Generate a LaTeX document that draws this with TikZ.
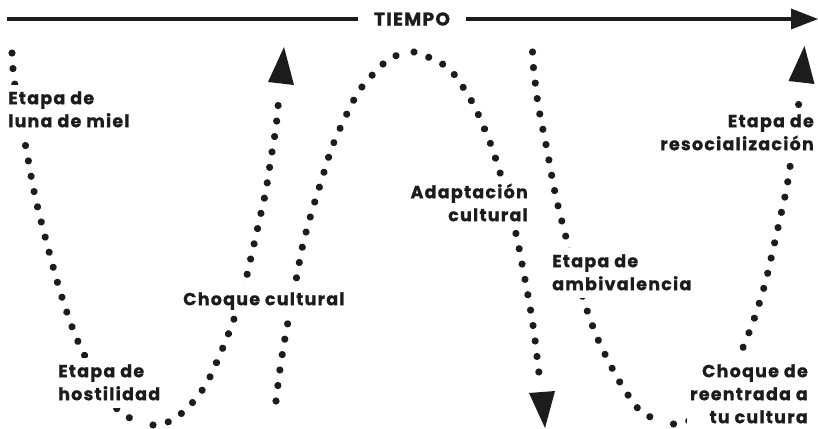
\documentclass[tikz,border=0pt]{standalone}
\usepackage{fontspec}
\setmainfont{Poppins}[LetterSpace=7, BoldFeatures={FakeBold=0.8}]
\definecolor{ink}{HTML}{1C1C1C}
% fixed line height / depth so label boxes do not depend on the letters
\newcommand\topstrut{\rule{0pt}{16pt}}
\newcommand\botstrut{\rule[-5pt]{0pt}{5pt}}
\tikzset{
  dotpath/.style={draw=ink, line width=7.2pt, line cap=round,
      dash pattern=on 0.01pt off #1},
  dotpath/.default=15.6pt,
  stage/.style={fill=white, inner sep=3pt, text=ink,
      font=\bfseries\fontsize{17.5}{23}\selectfont},
  headfill/.style={fill=ink},
}
\begin{document}
\begin{tikzpicture}[x=1pt,y=-1pt]
\useasboundingbox (0,0) rectangle (818,428);

% time axis
\node[font=\bfseries\fontsize{18.5}{20}\selectfont, text=ink, inner xsep=0pt] (tiempo) at (412,19) {TIEMPO};
\coordinate (axisstart) at (7,19);
\coordinate (axisend) at (791,19);
\draw[ink, line width=3.8pt] (axisstart) -- ([xshift=-16pt]tiempo.west);
\draw[ink, line width=3.8pt] ([xshift=16pt]tiempo.east) -- (axisend);
\fill[headfill] (791,8.5) -- (818,19) -- (791,29.5) -- cycle;

% first W-shaped curve (stay abroad)
\draw[dotpath] plot[smooth] coordinates {
  (12,53) (13,69) (18,108) (26,148) (35,196) (47,244) (60,291) (76,337)
  (98,381) (117,409) (128,417) (143,424)};
\draw[dotpath] plot[smooth] coordinates {
  (153,425) (168,422) (182,413) (193,402) (203,389) (211,375) (224,345)
  (235,316) (245,283) (252,253) (259,222) (266,190) (271,158) (276,127)
  (279,95)};
\coordinate (upA) at (284,47);
\fill[headfill] (268,82) -- (upA) -- (294,85) -- cycle;

% second W-shaped curve (return home), same shape moved right
\begin{scope}[shift={(520.5,-1)}]
  \draw[dotpath] plot[smooth] coordinates {
    (12,53) (13,69) (18,108) (26,148) (35,196) (47,244) (60,291) (76,337)
    (98,381) (117,409) (128,417) (143,424)};
  \draw[dotpath] plot[smooth] coordinates {
    (153,425) (168,422) (182,413) (193,402) (203,389) (211,375) (224,345)
    (235,316) (245,283) (252,253) (259,222) (266,190) (271,158) (276,127)
    (279,95)};
  \coordinate (upB) at (284,47);
  \fill[headfill] (268,82) -- (upB) -- (294,85) -- cycle;
\end{scope}

% the arch between them
\draw[dotpath] plot[smooth] coordinates {
  (276,401) (280,369) (285,338) (291,306) (297,275) (303,244) (312,211)
  (321,182) (331,150) (343,122) (357,94) (367,81) (378,69) (389,59) (403,53)};
\draw[dotpath] plot[smooth] coordinates {
  (414,52) (428,57) (441,63) (453,73) (463,87) (471,100) (479,116) (491,145)
  (501,176) (509,207) (517,238) (523,269) (529,301) (534,332) (538,365) (540,382)};
\coordinate (down) at (545,428);
\fill[headfill] (529,393) -- (555,391) -- (down) -- cycle;

% stage labels
\node[stage, anchor=north west, align=left] (luna) at (5,85)
  {\topstrut Etapa de\\luna de miel\botstrut};
\node[stage, anchor=north west, align=left] (hostilidad) at (55,358)
  {\topstrut Etapa de\\hostilidad\botstrut};
\node[stage, anchor=north west] (choque) at (180,286)
  {\topstrut Choque cultural\botstrut};
\node[stage, anchor=north east, align=right] (adaptacion) at (531,179)
  {\topstrut Adaptación\\cultural\botstrut};
\node[stage, anchor=north west, align=left] (ambivalencia) at (549,248)
  {\topstrut Etapa de\\ambivalencia\botstrut};
\node[stage, anchor=north east, align=right] (reentrada) at (811,358)
  {\topstrut Choque de\\reentrada a\\tu cultura\botstrut};
\node[stage, anchor=north east, align=right] (resocializacion) at (817,108)
  {\topstrut Etapa de\\resocialización\botstrut};
\end{tikzpicture}
\end{document}
